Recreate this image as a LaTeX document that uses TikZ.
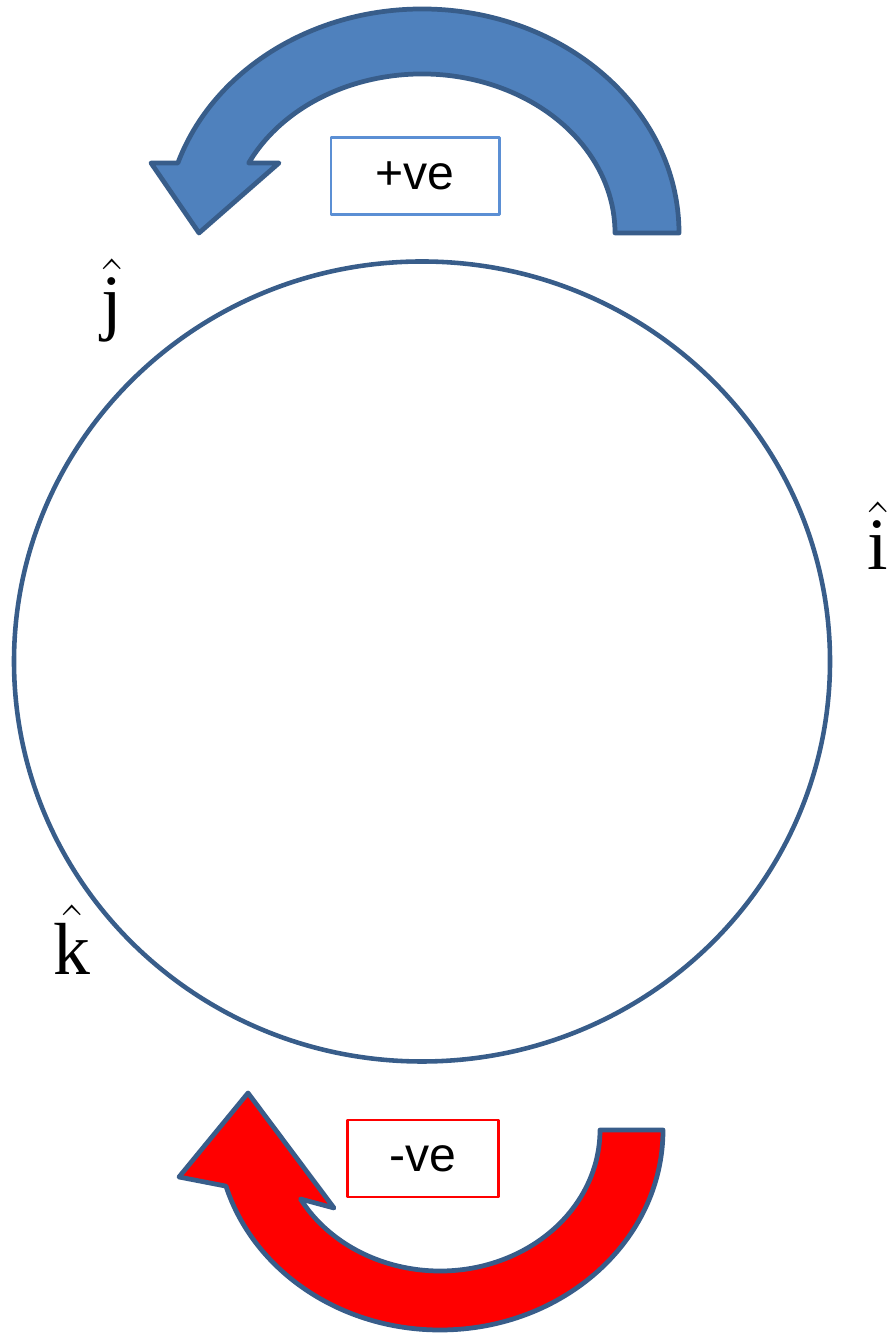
\documentclass[tikz,border=0pt]{standalone}
\usepackage{amsmath}
\usepackage{fontspec}
\setsansfont{Liberation Sans}
\newfontfamily\timesfont{Liberation Serif}
\usepackage{tikz}
\usepackage{xcolor}
\definecolor{edgeblue}{HTML}{385D8A}
\definecolor{fillblue}{HTML}{4F81BD}
\definecolor{boxblue}{HTML}{5B8FD4}

\begin{document}
\begin{tikzpicture}[line join=round,
  turnarrow/.style={draw=edgeblue,line width=1.35pt},
  signbox/.style={draw,line width=0.85pt,fill=white,minimum width=#1,minimum height=0.77cm,inner sep=0pt,font=\sffamily\fontsize{13.7}{16}\selectfont},
  unitvec/.style={anchor=base,inner sep=0pt,font=\timesfont\fontsize{21}{24}\selectfont}]
\useasboundingbox (0,0) rectangle (8.95,13.4);
\draw[edgeblue,line width=1.3pt] (4.22,6.785) ellipse[x radius=4.08,y radius=4.0];
\coordinate (bc) at (4.22,11.07);
\coordinate (rc) at (4.40,2.10);
\draw[turnarrow,fill=fillblue] ([shift={(0:2.57 and 2.24)}]bc) arc[start angle=0,end angle=161.8,x radius=2.57,y radius=2.24]
  -- (1.51,11.77) -- (1.99,11.07) -- (2.79,11.77) -- ([shift={(153.9:1.93 and 1.59)}]bc)
  arc[start angle=153.9,end angle=0,x radius=1.93,y radius=1.59] -- cycle;
\draw[turnarrow,fill=red] ([shift={(360:2.23 and 2.0)}]rc) arc[start angle=360,end angle=196.3,x radius=2.23,y radius=2.0]
  -- (1.79,1.63) -- (2.48,2.47) -- (3.34,1.32) -- ([shift={(209.3:1.60 and 1.41)}]rc)
  arc[start angle=209.3,end angle=360,x radius=1.60,y radius=1.41] -- cycle;
\node[signbox=1.68cm,draw=boxblue] (pos) at (4.15,11.64) {+ve\hspace{0.12cm}};
\node[signbox=1.51cm,draw=red] (neg) at (4.225,1.815) {-ve};
\node[unitvec] (jhat) at (1.12,10.13) {$\hat{\text{j}}$};
\node[unitvec] (ihat) at (8.78,7.70) {$\hat{\text{i}}$};
\node[unitvec] (khat) at (0.72,3.65) {$\hat{\text{k}}$};
\end{tikzpicture}
\end{document}
